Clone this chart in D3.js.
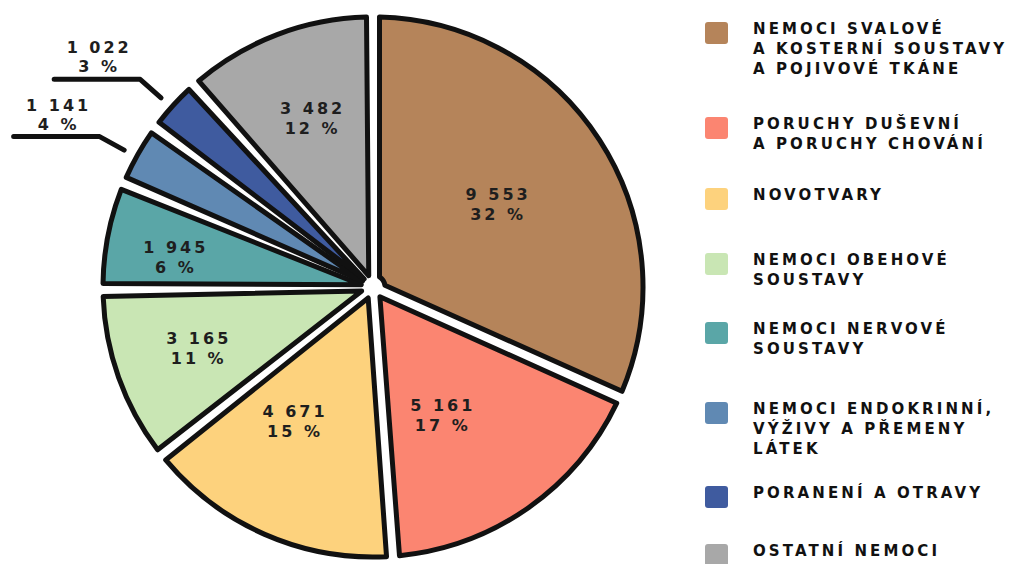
<!DOCTYPE html>
<html>
<head>
<meta charset="utf-8">
<script src="https://cdn.jsdelivr.net/npm/d3@7"></script>
<style>
  html, body { margin: 0; padding: 0; background: #fff; }
  svg { display: block; }
  text { font-family: "DejaVu Sans", sans-serif; font-weight: bold; }
</style>
</head>
<body>
<svg id="chart" width="1011" height="564"></svg>
<script>
// Pracovní neschopnost podle skupin diagnóz
const categories = [
  "Nemoci svalové a kosterní soustavy a pojivové tkáně",
  "Poruchy duševní a poruchy chování",
  "Novotvary",
  "Nemoci oběhové soustavy",
  "Nemoci nervové soustavy",
  "Nemoci endokrinní, výživy a přeměny látek",
  "Poranění a otravy",
  "Ostatní nemoci"
];
const values = [9553, 5161, 4671, 3165, 1945, 1141, 1022, 3482];
const legendLines = [
  ["NEMOCI SVALOVÉ", "A KOSTERNÍ SOUSTAVY", "A POJIVOVÉ TKÁNE"],
  ["PORUCHY DUŠEVNÍ", "A PORUCHY CHOVÁNÍ"],
  ["NOVOTVARY"],
  ["NEMOCI OBEHOVÉ", "SOUSTAVY"],
  ["NEMOCI NERVOVÉ", "SOUSTAVY"],
  ["NEMOCI ENDOKRINNÍ,", "VÝŽIVY A PŘEMENY", "LÁTEK"],
  ["PORANENÍ A OTRAVY"],
  ["OSTATNÍ NEMOCI"]
];
const colors = ["#b5845a", "#fb8571", "#fdd27d", "#c9e6b4", "#5aa6a7", "#6089b3", "#3f5b9f", "#a8a8a8"];

// layout
const W = 1011, H = 564;
const cx = 373, cy = 287, R = 270;
// label placement inside slices: [distance from centre, angular nudge in degrees]; null = outside with leader
const labelPlace = [[149, -1], [145, 7], [156, 7], [186, 0.5], [201, -2.3], null, null, [180, 0.7]];
const legendTops = [22, 117, 188, 253, 322, 402, 486, 544];

const svg = d3.select("#chart");
svg.append("rect").attr("width", W).attr("height", H).attr("fill", "#fff");

const total = d3.sum(values);
const locale = d3.formatLocale({ decimal: ",", thousands: " ", grouping: [3] });
const fmt = locale.format(",d");
const pct = v => Math.round(v / total * 100) + " %";

const pie = d3.pie().sort(null).value(d => d).startAngle(0).endAngle(2 * Math.PI);
const arcs = pie(values);

const arc = d3.arc()
  .innerRadius(12)
  .outerRadius(R)
  .padAngle(13 / R)
  .padRadius(R);

const g = svg.append("g").attr("transform", `translate(${cx},${cy})`);

g.selectAll("path.slice")
  .data(arcs)
  .join("path")
  .attr("class", "slice")
  .attr("d", arc)
  .attr("fill", (d, i) => colors[i])
  .attr("stroke", "#111")
  .attr("stroke-width", 5)
  .attr("stroke-linejoin", "round");

// point at angle a (clockwise from 12 o'clock) and radius r
const polar = (a, r) => [Math.sin(a) * r, -Math.cos(a) * r];

// labels inside slices
arcs.forEach((d, i) => {
  const place = labelPlace[i];
  if (!place) return;
  const a = (d.startAngle + d.endAngle) / 2 + place[1] * Math.PI / 180;
  const [x, y] = polar(a, place[0]);
  const t = g.append("text")
    .attr("text-anchor", "middle")
    .attr("font-size", 16)
    .attr("letter-spacing", 3)
    .attr("fill", "#1e1e1e");
  t.append("tspan").attr("x", x + 1.5).attr("y", y - 4).text(fmt(values[i]));
  t.append("tspan").attr("x", x + 1.5).attr("y", y + 16).text(pct(values[i]));
});

// labels with leader lines for the narrow slices
arcs.forEach((d, i) => {
  if (labelPlace[i]) return;
  const a = (d.startAngle + d.endAngle) / 2 - 0.01;
  const p0 = polar(a, R + 14);
  const p1 = polar(a, R + 42);
  const p2 = [p1[0] - 86, p1[1]];
  g.append("path")
    .attr("d", d3.line()([p0, p1, p2]))
    .attr("fill", "none")
    .attr("stroke", "#111")
    .attr("stroke-width", 5)
    .attr("stroke-linecap", "round")
    .attr("stroke-linejoin", "round");
  const mx = (p1[0] + p2[0]) / 2 + 2;
  const t = g.append("text")
    .attr("text-anchor", "middle")
    .attr("font-size", 16)
    .attr("letter-spacing", 3)
    .attr("fill", "#1e1e1e");
  t.append("tspan").attr("x", mx).attr("y", p1[1] - 26).text(fmt(values[i]));
  t.append("tspan").attr("x", mx).attr("y", p1[1] - 7).text(pct(values[i]));
});

// legend
const legend = svg.append("g");
legendLines.forEach((lines, i) => {
  const top = legendTops[i];
  legend.append("rect")
    .attr("x", 705).attr("y", top)
    .attr("width", 23).attr("height", 22)
    .attr("rx", 3)
    .attr("fill", colors[i]);
  const t = legend.append("text")
    .attr("font-size", 15)
    .attr("letter-spacing", 3.1)
    .attr("fill", "#111");
  lines.forEach((line, j) => {
    t.append("tspan").attr("x", 753).attr("y", top + 12 + j * 20).text(line);
  });
});
</script>
</body>
</html>
